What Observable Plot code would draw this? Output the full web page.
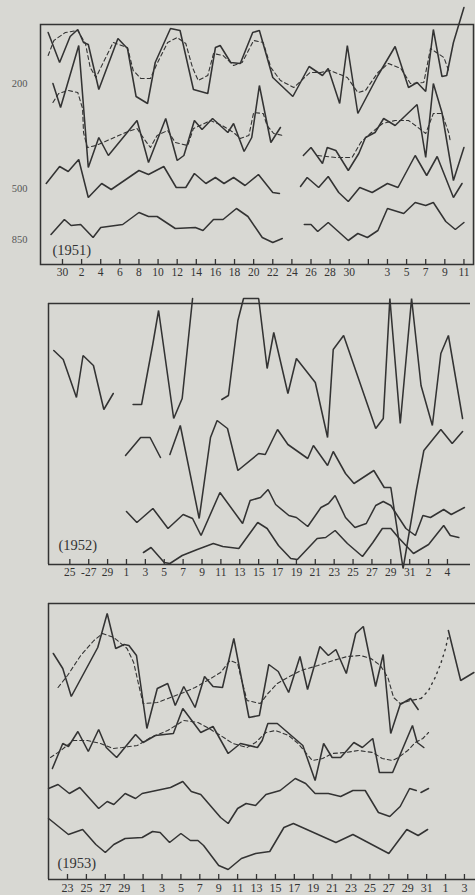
<!DOCTYPE html>
<html>
<head>
<meta charset="utf-8">
<script src="https://cdn.jsdelivr.net/npm/d3@7"></script>
<script src="https://cdn.jsdelivr.net/npm/@observablehq/plot@0.6"></script>
<style>
  html, body { margin: 0; padding: 0; background: #d8d8d3; }
  #page { position: relative; width: 475px; height: 895px; background: #d8d8d3; overflow: hidden; }
  #page svg { position: absolute; left: 0; }
</style>
</head>
<body>
<div id="page"></div>
<script>
// ---------- Panel 1 (1951): x = day index (1 = 30th of first month), y = relative height ----------
const p1Ticks  = [1,3,5,7,9,11,13,15,17,19,21,23,25,27,29,31,33,35,37,39,41,43];
const p1Labels = ["30","2","4","6","8","10","12","14","16","18","20","22","24","26","28","30","","3","5","7","9","11"];
const p1Levels = ["200","500","850"];
const p1LevelVals = [181, 76, 25];

const p1A = [[-0.5,232],[0.7,202],[1.8,228],[2.6,235],[3.2,222],[3.7,220],[4.8,175],[6.8,226],[7.8,216],[8.7,168],[9.9,161],[10.7,202],[12.3,236],[13.3,234],[14.7,175],[16.2,171],[17.0,217],[17.5,219],[18.6,202],[19.6,201],[20.9,232],[21.6,234],[23.0,187],[25.1,168],[26.8,198],[28.2,189],[28.8,196],[30.0,161],[30.8,219],[31.9,151],[34.0,189],[35.8,218],[37.2,177],[38.1,182],[39.0,173],[39.8,235],[40.7,188],[41.2,189],[41.9,222],[43.0,257]];
const p1Adash = [[-0.5,209],[0.1,224],[1.3,232],[2.6,234],[3.4,221],[3.9,197],[4.5,187],[6.3,222],[7.8,217],[8.4,194],[9.2,186],[10.2,186],[10.9,201],[12.0,222],[13.0,227],[13.9,221],[14.6,197],[15.2,184],[16.2,189],[16.8,211],[17.8,209],[18.9,199],[19.8,202],[21.0,224],[22.0,222],[22.8,197],[23.8,184],[25.2,177],[26.9,192],[28.0,192],[29.0,194],[30.8,187],[31.9,172],[32.7,174],[34.0,192],[35.1,201],[36.4,196],[37.4,181],[38.8,182],[39.5,216],[40.9,207],[41.4,194]];
const p1B1 = [[0.0,181],[0.8,157],[2.7,219],[3.7,97],[4.8,127],[5.8,109],[8.8,144],[10.0,102],[11.8,146],[13.0,104],[13.7,109],[14.8,144],[15.6,135],[16.7,146],[18.3,132],[18.9,141],[20.0,113],[20.8,127],[21.6,179],[22.8,122],[23.8,137]];
const p1B1dash = [[0.0,162],[0.6,171],[1.6,174],[2.6,172],[3.1,156],[3.2,132],[3.6,117],[4.5,119],[5.7,124],[7.6,132],[8.8,136],[9.5,126],[10.2,117],[10.9,129],[12.0,134],[12.8,122],[14.1,119],[14.7,136],[16.5,144],[17.7,139],[18.9,132],[19.6,126],[20.5,129],[21.0,152],[22.0,151],[22.4,139],[23.1,131],[24.1,129]];
const p1B2 = [[26.2,109],[27.0,117],[28.2,101],[28.7,117],[29.6,114],[30.9,94],[32.0,111],[32.7,127],[33.7,132],[34.6,146],[35.8,139],[38.1,160],[39.0,107],[39.8,181],[40.7,152],[41.9,84],[43.0,117]];
const p1B2dash = [[27.7,109],[29.6,107],[31.3,107],[32.2,122],[33.2,131],[34.5,141],[35.8,144],[37.2,144],[38.2,137],[39.0,131],[39.8,151],[40.7,151],[41.4,132],[41.6,122]];
const p1C1 = [[-0.7,81],[0.7,98],[1.6,93],[2.7,105],[3.7,67],[5.1,81],[6.1,75],[9.0,94],[10.0,90],[11.6,98],[12.9,77],[13.9,77],[14.8,91],[16.0,81],[17.0,87],[17.9,81],[18.9,87],[20.1,79],[21.5,90],[23.0,72],[23.7,71]];
const p1C2 = [[25.9,78],[26.6,87],[27.8,77],[28.8,88],[29.9,72],[30.9,63],[32.1,77],[33.4,72],[35.0,81],[36.1,77],[37.9,109],[39.1,89],[40.2,108],[41.9,67],[42.8,81]];
const p1D1 = [[-0.2,30],[1.2,45],[1.9,39],[2.9,40],[4.2,27],[5.0,37],[7.3,40],[9.0,52],[10.0,48],[10.9,48],[12.8,36],[14.9,37],[15.7,34],[16.8,45],[17.8,45],[19.2,56],[20.4,48],[21.9,27],[23.0,22],[24.0,26]];
const p1D2 = [[26.3,40],[27.0,40],[27.7,33],[28.8,42],[30.9,24],[31.9,31],[32.9,27],[34.0,34],[35.0,56],[36.7,51],[37.9,62],[39.0,59],[39.8,62],[41.1,43],[42.1,35],[43.0,42]];

// ---------- Panel 2 (1952): x = day index (0 = 1st of month) ----------
const p2Ticks  = [-6,-4,-2,0,2,4,6,8,10,12,14,16,18,20,22,24,26,28,30,32,34];
const p2Labels = ["25","-27","29","1","3","5","7","9","11","13","15","17","19","21","23","25","27","29","31","2","4"];

const p2E1 = [[-7.7,214],[-6.7,205],[-5.3,167],[-4.6,209],[-3.5,199],[-2.4,155],[-1.4,171]];
const p2E2 = [[0.7,160],[1.6,160],[2.8,221],[3.4,254],[5.0,146],[5.9,166],[7.0,266]];
const p2E3 = [[10.1,165],[10.8,169],[11.8,244],[12.4,266],[14.0,266],[14.9,196],[15.6,232],[17.1,171],[18.0,206],[20.0,182],[21.3,127],[21.9,215],[23.0,229],[26.4,136],[27.2,146],[27.9,266],[29.0,141],[30.2,266],[31.2,179],[32.4,139],[33.3,211],[34.1,229],[35.6,146]];
const p2F1 = [[-0.1,109],[1.5,127],[2.5,127],[3.6,107]];
const p2F2 = [[4.6,110],[5.7,139],[7.7,46],[8.9,127],[9.6,144],[10.7,136],[11.8,94],[14.0,111],[14.7,110],[16.0,135],[17.1,120],[19.2,106],[19.8,119],[21.3,99],[21.9,113],[23.2,91],[24.1,81],[26.2,94],[27.3,77],[28.0,77],[29.3,-4],[30.7,74],[31.5,114],[33.3,135],[34.5,121],[35.6,133]];
const p2G = [[0.0,53],[1.1,42],[2.8,56],[4.4,36],[6.0,50],[7.0,46],[7.9,29],[9.9,72],[12.3,41],[13.1,64],[14.2,67],[15.0,75],[15.8,60],[17.2,49],[18.0,47],[19.2,38],[20.6,57],[21.4,61],[22.1,69],[23.2,47],[24.2,37],[25.4,41],[26.4,59],[27.2,63],[28.0,59],[29.6,36],[30.6,29],[31.4,49],[32.2,47],[33.6,55],[34.4,50],[35.8,57]];
const p2H = [[1.8,12],[2.6,17],[4.0,2],[4.6,1],[5.9,9],[7.5,15],[9.2,21],[10.2,18],[11.9,16],[13.9,42],[14.9,36],[16.1,19],[17.4,6],[18.1,5],[20.2,26],[21.1,27],[22.1,34],[23.4,21],[25.0,8],[26.1,22],[27.1,36],[28.0,36],[28.8,27],[30.4,11],[32.0,20],[33.6,39],[34.3,29],[35.2,27]];

// ---------- Panel 3 (1953): x = day index (0 = 23rd of first month) ----------
const p3Ticks  = [0,2,4,6,8,10,12,14,16,18,20,22,24,26,28,30,32,34,36,38,40,42];
const p3Labels = ["23","25","27","29","1","3","5","7","9","11","13","15","17","19","21","23","25","27","29","31","1","3"];

const p3I = [[-1.5,226],[-0.5,211],[0.4,183],[3.2,232],[4.2,266],[5.1,231],[6.0,235],[6.5,234],[7.3,224],[8.4,151],[9.5,191],[10.6,196],[11.4,174],[12.3,193],[13.5,172],[14.5,203],[15.4,193],[16.4,192],[17.6,241],[19.2,162],[20.3,164],[21.3,215],[22.3,208],[23.4,187],[24.6,223],[25.4,190],[26.7,233],[27.6,224],[28.4,230],[29.5,206],[30.5,246],[31.3,253],[32.6,193],[33.4,225],[34.2,146],[35.2,175],[36.3,181],[37.1,170]];
const p3Idash = [[-1.0,192],[0.0,204],[1.4,224],[2.8,239],[3.7,246],[4.9,242],[6.3,231],[7.0,217],[7.5,196],[8.0,176],[9.5,177],[10.9,182],[12.3,187],[13.5,192],[14.8,199],[16.2,207],[17.2,219],[18.0,216],[18.3,204],[19.0,179],[20.4,176],[21.2,186],[22.2,196],[23.3,202],[24.7,209],[26.5,214],[28.1,219],[29.6,223],[31.0,224],[32.1,221],[33.1,214],[33.9,202],[34.5,182],[35.2,176],[36.3,179],[37.4,181]];
const p3Idot = [[37.4,181],[38.2,189],[38.9,202],[39.5,216],[40.0,231],[40.3,244]];
const p3I2 = [[40.3,249],[41.6,199],[43.0,207]];
const p3J = [[-1.6,111],[-0.5,136],[0.1,133],[1.1,148],[2.2,128],[3.3,150],[4.1,132],[5.2,122],[7.2,145],[8.0,137],[9.3,144],[11.2,146],[12.2,171],[14.1,147],[15.4,153],[17.0,126],[18.3,136],[20.1,132],[20.6,139],[21.2,156],[22.2,156],[24.9,134],[26.2,99],[27.1,136],[28.0,122],[28.9,122],[30.3,137],[31.2,132],[32.3,141],[33.0,107],[34.4,107],[36.5,154],[37.0,137],[37.7,132]];
const p3Jdash = [[-1.8,122],[-0.7,129],[0.6,139],[2.1,139],[3.5,136],[4.8,131],[5.8,132],[7.4,134],[8.8,142],[10.6,149],[12.3,159],[13.8,157],[14.8,152],[16.2,144],[17.5,136],[19.0,132],[19.9,137],[21.0,147],[22.0,149],[23.4,144],[24.4,136],[25.2,127],[25.9,119],[27.0,121],[28.0,126],[29.4,127],[30.8,129],[32.3,127],[33.3,121],[34.4,119],[35.0,122],[36.0,129],[36.8,137],[37.6,141],[38.2,147]];
const p3K1 = [[-2.0,91],[-1.0,95],[0.2,86],[1.3,92],[3.3,71],[4.2,78],[4.9,75],[6.1,86],[7.2,81],[7.9,86],[10.9,92],[12.2,98],[13.1,88],[14.1,85],[16.2,62],[17.0,56],[18.0,71],[18.9,76],[19.9,74],[21.0,85],[22.5,89],[24.1,101],[25.2,96],[26.2,86],[27.6,86],[28.9,83],[30.2,89],[31.5,89],[32.9,67],[34.1,63],[35.2,73],[36.2,91],[36.9,89]];
const p3K2 = [[37.4,87],[38.2,91]];
const p3L = [[-2.0,61],[0.1,45],[1.6,50],[3.0,35],[4.0,27],[4.9,35],[6.1,41],[7.9,42],[9.0,48],[9.8,47],[10.8,37],[12.0,46],[13.0,39],[13.8,39],[14.4,34],[16.0,14],[17.0,10],[18.4,21],[19.9,26],[21.4,28],[22.9,52],[23.9,56],[28.4,37],[30.2,45],[34.0,26],[35.9,50],[37.1,44],[38.1,50]];

// ---------- drawing ----------
const INK = "#333333";
const FONT = "'Liberation Serif', 'DejaVu Serif', serif";
const solid  = a => Plot.line(a, {x: d => d[0], y: d => d[1], stroke: INK, strokeWidth: 1.55, strokeLinejoin: "miter"});
const dashed = a => Plot.line(a, {x: d => d[0], y: d => d[1], stroke: INK, strokeWidth: 1.1, strokeDasharray: "4,3"});
const dotted = a => Plot.line(a, {x: d => d[0], y: d => d[1], stroke: INK, strokeWidth: 1.4, strokeDasharray: "1.5,4.5", strokeLinecap: "round"});
const tickMarks = t => Plot.ruleX(t, {x: d => d, y1: 0, y2: 5, stroke: INK, strokeWidth: 1.3});
const tickText = (t, labels, dy, size) => Plot.text(t, {x: d => d, y: 0, text: (d, i) => labels[i], dy, fontSize: size, fill: INK});
const baseStyle = {background: "transparent", overflow: "visible", fontFamily: FONT, color: INK};

const page = document.getElementById("page");
function place(svg, top) { svg.style.top = top + "px"; page.appendChild(svg); }

// Panel 1
const x1 = [-1.3, 44.0];
place(Plot.plot({
  width: 475, height: 300, marginTop: 24, marginBottom: 36, marginLeft: 40, marginRight: 2,
  x: {domain: x1, axis: null}, y: {domain: [0, 240], axis: null},
  style: baseStyle,
  marks: [
    Plot.frame({stroke: INK, strokeWidth: 1.5}),
    tickMarks(p1Ticks),
    tickText(p1Ticks, p1Labels, 8, 11.5),
    Plot.text(p1LevelVals, {x: x1[0], y: d => d, text: (d, i) => p1Levels[i], dx: -13, textAnchor: "end", fontSize: 10.5, fill: "#555"}),
    Plot.text(["(1951)"], {x: -0.05, y: 14, text: d => d, textAnchor: "start", fontSize: 14.5, fill: INK}),
    dashed(p1Adash), dashed(p1B1dash), dashed(p1B2dash),
    solid(p1A), solid(p1B1), solid(p1B2), solid(p1C1), solid(p1C2), solid(p1D1), solid(p1D2)
  ]
}), 0);

// Panel 2
const x2 = [-8.26, 36.44];
place(Plot.plot({
  width: 475, height: 300, marginTop: 13, marginBottom: 26, marginLeft: 48, marginRight: 5,
  x: {domain: x2, axis: null}, y: {domain: [0, 261], axis: null},
  style: baseStyle,
  marks: [
    Plot.ruleX([x2[0]], {stroke: INK, strokeWidth: 1.5}),
    Plot.ruleY([0], {stroke: INK, strokeWidth: 1.5}),
    Plot.ruleY([261], {stroke: INK, strokeWidth: 1.5}),
    tickMarks(p2Ticks),
    tickText(p2Ticks, p2Labels, 8, 11.5),
    Plot.text(["(1952)"], {x: -7.2, y: 19, text: d => d, textAnchor: "start", fontSize: 14.5, fill: INK}),
    solid(p2E1), solid(p2E2), solid(p2E3), solid(p2F1), solid(p2F2), solid(p2G), solid(p2H)
  ]
}), 290);

// Panel 3
const x3 = [-2.01, 43.17];
place(Plot.plot({
  width: 475, height: 305, marginTop: 13, marginBottom: 16, marginLeft: 48, marginRight: 0,
  x: {domain: x3, axis: null}, y: {domain: [0, 276], axis: null},
  style: baseStyle,
  marks: [
    Plot.ruleX([x3[0]], {stroke: INK, strokeWidth: 1.5}),
    Plot.ruleY([0], {stroke: INK, strokeWidth: 1.5}),
    Plot.ruleY([276], {stroke: INK, strokeWidth: 1.5}),
    tickMarks(p3Ticks),
    tickText(p3Ticks, p3Labels, 9, 12),
    Plot.text(["(1953)"], {x: -1.06, y: 16, text: d => d, textAnchor: "start", fontSize: 14.5, fill: INK}),
    dashed(p3Idash), dashed(p3Jdash), dotted(p3Idot),
    solid(p3I), solid(p3I2), solid(p3J), solid(p3K1), solid(p3K2), solid(p3L)
  ]
}), 590);
</script>
</body>
</html>
